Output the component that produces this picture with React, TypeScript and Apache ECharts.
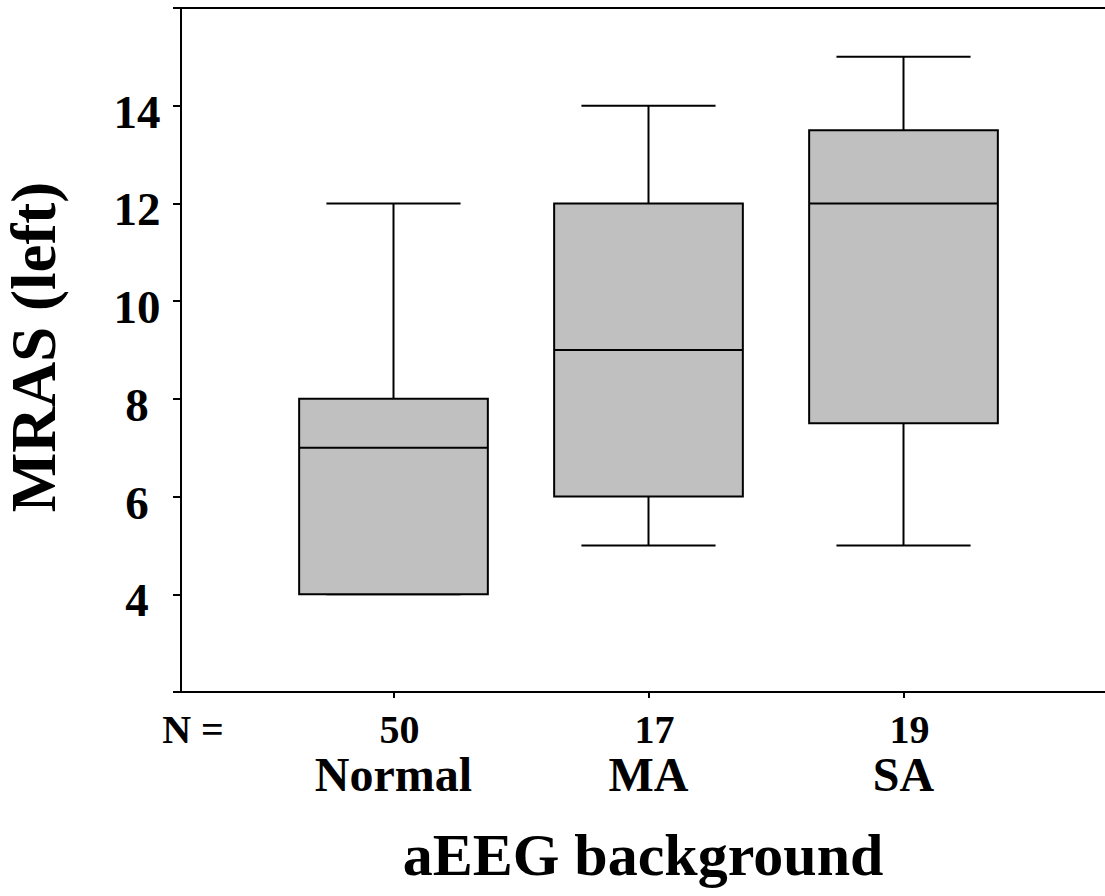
import React, { useEffect, useRef } from 'react';
import * as echarts from 'echarts';

const categories = ['Normal', 'MA', 'SA'];
const counts = [50, 17, 19];
const positions = [1, 2, 3];
// [min, q1, median, q3, max]
const minValues = [4, 5, 5];
const q1Values = [4, 6, 7.5];
const medianValues = [7, 9, 12];
const q3Values = [8, 12, 13.5];
const maxValues = [12, 14, 15];
const yLabelValues = [4, 6, 8, 10, 12, 14];

const FONT = "'Liberation Serif', 'Times New Roman', serif";

export default function App() {
  const ref = useRef<HTMLDivElement>(null);
  useEffect(() => {
    const chart = echarts.init(ref.current!, null, { renderer: 'svg' });
    const data = positions.map((p, i) => [
      p,
      minValues[i],
      q1Values[i],
      medianValues[i],
      q3Values[i],
      maxValues[i],
    ]);
    const xMin = 1 / 6;
    const xMax = 1 / 6 + 924 / 255;
    const lineStyle = { color: '#000', width: 2 };
    chart.setOption({
      animation: false,
      backgroundColor: '#fff',
      grid: { left: 181, right: 0, top: 8, bottom: 204, containLabel: false },
      xAxis: [
        {
          type: 'value',
          min: xMin,
          max: xMax,
          axisLine: { show: true, onZero: false, lineStyle },
          axisTick: { show: true, customValues: positions, length: 6, lineStyle },
          axisLabel: {
            show: true,
            customValues: positions,
            margin: 16,
            formatter: (v: number) => {
              const i = positions.indexOf(Math.round(v));
              if (i < 0) return '';
              return `{n|${counts[i]}}\n{c|${categories[i]}}`;
            },
            rich: {
              n: {
                fontSize: 40,
                fontWeight: 'bold',
                fontFamily: FONT,
                color: '#000',
                lineHeight: 42,
                padding: [0, 0, 0, 12],
              },
              c: {
                fontSize: 48,
                fontWeight: 'bold',
                fontFamily: FONT,
                color: '#000',
                lineHeight: 49,
              },
            },
          },
          splitLine: { show: false },
        },
        {
          type: 'value',
          position: 'top',
          min: xMin,
          max: xMax,
          axisLine: { show: true, onZero: false, lineStyle },
          axisTick: { show: false },
          axisLabel: { show: false },
          splitLine: { show: false },
        },
      ],
      yAxis: {
        type: 'value',
        min: 2,
        max: 16,
        interval: 2,
        axisLine: { show: true, onZero: false, lineStyle },
        axisTick: { show: true, length: 8, lineStyle },
        axisLabel: {
          formatter: (v: number) => (yLabelValues.includes(v) ? `{a|${v}}` : ''),
          align: 'center',
          margin: 44,
          rich: {
            a: {
              fontSize: 47,
              fontWeight: 'bold',
              fontFamily: FONT,
              color: '#000',
              lineHeight: 47,
              padding: [12, 0, 0, 0],
            },
          },
        },
        splitLine: { show: false },
      },
      series: [
        {
          type: 'custom',
          xAxisIndex: 0,
          yAxisIndex: 0,
          data,
          renderItem: (params: any, api: any) => {
            const x = api.value(0);
            const vMin = api.value(1);
            const vQ1 = api.value(2);
            const vMed = api.value(3);
            const vQ3 = api.value(4);
            const vMax = api.value(5);
            const pMin = api.coord([x, vMin]);
            const pQ1 = api.coord([x, vQ1]);
            const pMed = api.coord([x, vMed]);
            const pQ3 = api.coord([x, vQ3]);
            const pMax = api.coord([x, vMax]);
            const unit = api.size([1, 0])[0];
            const bw = unit * 0.37;
            const cw = unit * 0.263;
            const cx = pMed[0];
            const ls = { stroke: '#000', lineWidth: 2, fill: null };
            return {
              type: 'group',
              children: [
                { type: 'line', shape: { x1: cx, y1: pMax[1], x2: cx, y2: pQ3[1] }, style: ls },
                { type: 'line', shape: { x1: cx, y1: pQ1[1], x2: cx, y2: pMin[1] }, style: ls },
                { type: 'line', shape: { x1: cx - cw, y1: pMax[1], x2: cx + cw, y2: pMax[1] }, style: ls },
                { type: 'line', shape: { x1: cx - cw, y1: pMin[1], x2: cx + cw, y2: pMin[1] }, style: ls },
                {
                  type: 'rect',
                  shape: { x: cx - bw, y: pQ3[1], width: 2 * bw, height: pQ1[1] - pQ3[1] },
                  style: { fill: '#c0c0c0', stroke: '#000', lineWidth: 2 },
                },
                { type: 'line', shape: { x1: cx - bw, y1: pMed[1], x2: cx + bw, y2: pMed[1] }, style: ls },
              ],
            };
          },
        },
      ],
      graphic: [
        {
          type: 'text',
          x: 193,
          y: 729,
          style: {
            text: 'N =',
            fontSize: 40,
            fontWeight: 'bold',
            fontFamily: FONT,
            fill: '#000',
            align: 'center',
            verticalAlign: 'middle',
          },
        },
        {
          type: 'text',
          x: 643,
          y: 855,
          style: {
            text: 'aEEG background',
            fontSize: 60,
            fontWeight: 'bold',
            fontFamily: FONT,
            fill: '#000',
            align: 'center',
            verticalAlign: 'middle',
          },
        },
        {
          type: 'text',
          x: 34,
          y: 347,
          rotation: Math.PI / 2,
          style: {
            text: 'MRAS (left)',
            fontSize: 63,
            fontWeight: 'bold',
            fontFamily: FONT,
            fill: '#000',
            align: 'center',
            verticalAlign: 'middle',
          },
        },
      ],
    });
    return () => chart.dispose();
  }, []);
  return (
    <div
      ref={ref}
      style={{ position: 'fixed', left: 0, top: 0, width: 1105, height: 896, background: '#fff' }}
    />
  );
}
